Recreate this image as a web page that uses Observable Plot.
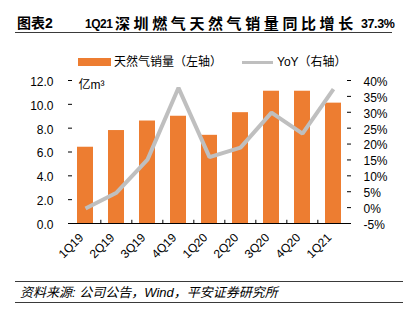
<!DOCTYPE html>
<html>
<head>
<meta charset="utf-8">
<script src="https://cdn.jsdelivr.net/npm/d3@7"></script>
<script src="https://cdn.jsdelivr.net/npm/@observablehq/plot@0.6"></script>
<style>
  html, body { margin: 0; padding: 0; background: #fff; }
  body { width: 406px; height: 321px; position: relative; overflow: hidden;
         font-family: "Liberation Sans", "Noto Sans CJK SC", sans-serif; color: #000; }
  .abs { position: absolute; white-space: nowrap; line-height: 1; }
  .rule { position: absolute; height: 1px; background: #3a3a3a; }
  #chart { position: absolute; left: 0; top: 40px; }
  .t { font-weight: bold; }
</style>
</head>
<body>
<div class="abs t" style="left:17px; top:16px; font-size:14px;">图表2</div>
<div class="abs t" style="left:85px; top:17.5px; font-size:12px; letter-spacing:-0.5px;">1Q21</div>
<div class="abs t" style="left:115px; top:15.5px; font-size:15px; letter-spacing:3.6px;">深圳燃气天然气销量同比增长</div>
<div class="abs t" style="left:361px; top:17.5px; font-size:12.5px; letter-spacing:-0.4px;">37.3%</div>
<div class="rule" style="left:15px; width:377px; top:32px;"></div>

<div class="abs" style="left:78px; top:58px; width:33px; height:8px; background:#ED7D31;"></div>
<div class="abs" style="left:114px; top:56px; font-size:12px;">天然气销量（左轴）</div>
<div class="abs" style="left:242px; top:60.5px; width:31px; height:3.5px; background:#BFBFBF;"></div>
<div class="abs" style="left:277px; top:56px; font-size:12px;">YoY（右轴）</div>

<div id="chart"></div>

<div class="rule" style="left:15px; width:388px; top:281px;"></div>
<div class="abs" style="left:20px; top:286px; font-size:13px; font-style:italic;">资料来源: 公司公告，Wind，平安证券研究所</div>
<div class="rule" style="left:15px; width:388px; top:302px;"></div>

<script>
const categories = ["1Q19","2Q19","3Q19","4Q19","1Q20","2Q20","3Q20","4Q20","1Q21"];
const salesVolume = [6.4, 7.8, 8.6, 9.0, 7.4, 9.3, 11.1, 11.1, 10.1];
const yoyPct = [-0.3, 4.7, 15.1, 37.7, 15.9, 18.9, 29.9, 23.3, 37.3];
const leftTicks = [0, 2, 4, 6, 8, 10, 12];
const rightTicks = [-5, 0, 5, 10, 15, 20, 25, 30, 35, 40];
const unitLabel = "亿m³";

const leftMax = 12, rMin = -5, rMax = 40;
const toLeft = p => (p - rMin) / (rMax - rMin) * leftMax;
const fromLeft = v => v / leftMax * (rMax - rMin) + rMin;

const data = categories.map((c, i) => ({cat: c, vol: salesVolume[i], yoy: toLeft(yoyPct[i])}));

const W = 406, H = 230, mL = 68, mR = 56, mT = 40, mB = 47;
const step = (W - mL - mR) / categories.length;
const rightTickPos = rightTicks.map(toLeft);

const chart = Plot.plot({
  width: W, height: H,
  marginLeft: mL, marginRight: mR, marginTop: mT, marginBottom: mB,
  style: {fontSize: "12px", fontFamily: "'Liberation Sans', 'Noto Sans CJK SC', sans-serif", color: "#000", background: "transparent"},
  x: {domain: categories, paddingInner: 0.5, paddingOuter: 0.25},
  y: {domain: [0, leftMax]},
  marks: [
    Plot.barY(data, {x: "cat", y: "vol", fill: "#ED7D31"}),
    Plot.line(data, {x: "cat", y: "yoy", stroke: "#BFBFBF", strokeWidth: 4, strokeLinejoin: "miter", strokeLinecap: "butt"}),
    Plot.ruleY([0], {stroke: "#000", strokeWidth: 1.2}),
    Plot.ruleX(categories.slice(1), {x: d => d, y1: 0, y2: 0.27, dx: -step / 2, stroke: "#000"}),
    // left axis: line + inward ticks, then labels
    Plot.axisY({anchor: "left", ticks: leftTicks, tickFormat: () => "", tickSize: -4, line: true, stroke: "#000", label: null}),
    Plot.axisY({anchor: "left", ticks: leftTicks, tickFormat: d3.format(".1f"), tickSize: 0, tickPadding: 15, dy: 1.5, label: null}),
    // right axis
    Plot.axisY({anchor: "right", ticks: rightTickPos, tickFormat: () => "", tickSize: -4, line: true, stroke: "#000", label: null}),
    Plot.axisY({anchor: "right", ticks: rightTickPos, tickFormat: v => Math.round(fromLeft(v)) + "%", tickSize: 0, tickPadding: 13, dy: 1.5, label: null}),
    Plot.axisX({tickSize: 0, tickRotate: -45, tickPadding: 12, dx: -4, label: null}),
    Plot.text([unitLabel], {frameAnchor: "top-left", dx: 10, dy: 5, textAnchor: "start", lineAnchor: "middle", fontSize: 12})
  ]
});
document.getElementById("chart").appendChild(chart);
</script>
</body>
</html>
